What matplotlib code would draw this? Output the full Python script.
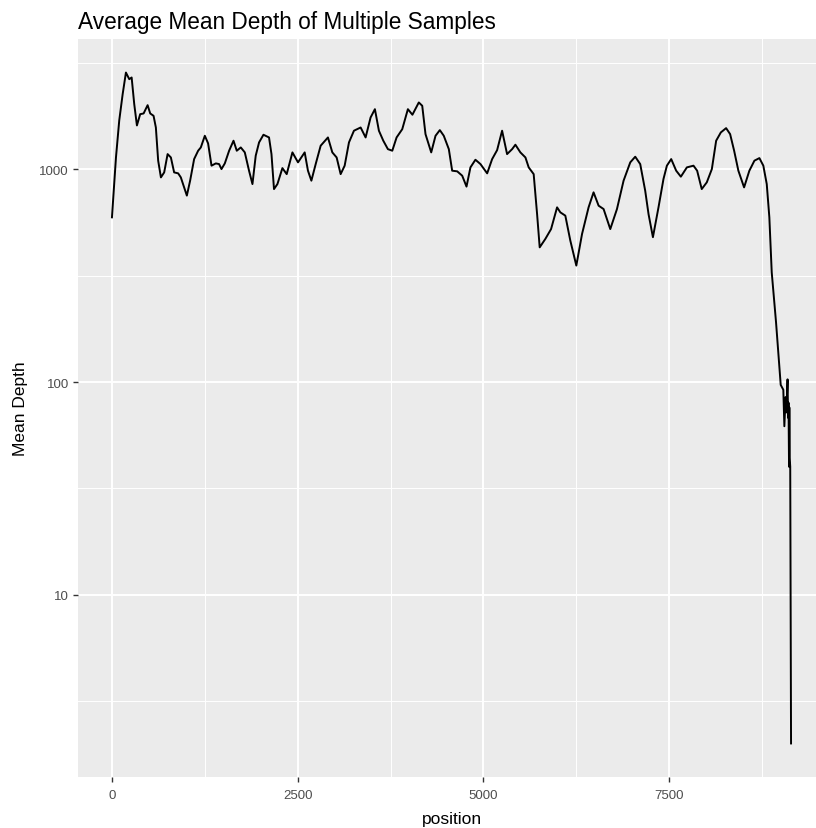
import numpy as np
import matplotlib
matplotlib.use("Agg")
import matplotlib.pyplot as plt
from matplotlib.ticker import FixedLocator, NullFormatter

plt.rcParams['font.family'] = ['Liberation Sans', 'DejaVu Sans']

# depth profile
position = [0, 54, 98, 144, 188, 233, 265, 300, 336, 380, 426, 480, 515, 560, 591,
            622, 659, 703, 749, 793, 837, 891, 927, 964, 1008, 1052, 1106, 1160, 1196,
            1250, 1294, 1340, 1398, 1442, 1474, 1519, 1577, 1636, 1680, 1734, 1788,
            1845, 1891, 1935, 1980, 2039, 2114, 2147, 2181, 2227, 2294, 2352, 2429,
            2504, 2594, 2638, 2684, 2742, 2809, 2907, 2966, 3024, 3078, 3132, 3190,
            3257, 3347, 3414, 3481, 3539, 3593, 3652, 3714, 3773, 3831, 3907, 3952,
            3983, 4044, 4130, 4176, 4220, 4297, 4355, 4413, 4466, 4534, 4579, 4647,
            4714, 4772, 4825, 4892, 4960, 5050, 5117, 5184, 5251, 5318, 5386, 5430,
            5497, 5565, 5609, 5676, 5722, 5757, 5833, 5910, 5991, 6035, 6102, 6169,
            6250, 6327, 6415, 6482, 6550, 6617, 6707, 6797, 6886, 6976, 7043, 7110,
            7177, 7222, 7281, 7356, 7423, 7469, 7527, 7594, 7657, 7738, 7827, 7876,
            7938, 8006, 8074, 8132, 8195, 8266, 8320, 8374, 8431, 8508, 8579, 8647,
            8714, 8767, 8813, 8848, 8880, 8938, 9001, 9036, 9050, 9066, 9077, 9093,
            9100, 9106, 9113, 9117, 9122, 9129, 9140]
mean_depth = [595, 1138, 1698, 2257, 2853, 2655, 2704, 2026, 1609, 1818, 1832, 2004, 1832,
              1786, 1574, 1099, 917, 968, 1180, 1138, 968, 958, 917, 839, 753, 885, 1118,
              1224, 1268, 1439, 1325, 1041, 1067, 1059, 1003, 1067, 1224, 1364, 1224,
              1268, 1202, 986, 853, 1160, 1339, 1455, 1413, 1180, 808, 853, 1014, 950,
              1202, 1079, 1202, 986, 885, 1059, 1292, 1413, 1202, 1138, 950, 1041, 1339,
              1520, 1574, 1413, 1754, 1919, 1520, 1364, 1245, 1224, 1413, 1545, 1754,
              1919, 1807, 2064, 1991, 1465, 1202, 1439, 1530, 1439, 1245, 986, 979, 934,
              830, 1022, 1110, 1059, 958, 1118, 1232, 1520, 1180, 1245, 1306, 1202, 1138,
              1022, 950, 616, 430, 471, 524, 663, 628, 606, 463, 353, 497, 663, 780, 675,
              651, 524, 651, 885, 1079, 1147, 1059, 794, 616, 480, 663, 901, 1041, 1118,
              986, 924, 1022, 1041, 986, 808, 869, 1003, 1364, 1492, 1563, 1465, 1224,
              986, 823, 986, 1099, 1130, 1041, 853, 595, 328, 191, 97, 92, 62, 85, 72,
              103, 68, 80, 40, 76, 44, 40, 2.0]

x = np.array(position)
y = np.array(mean_depth)

fig = plt.figure(figsize=(8.16, 8.29), dpi=100)
# panel runs slightly past the right edge of the figure, as in the original
ax = fig.add_axes([78/816, 51/829, 747/816, 738/829])
ax.set_facecolor('#EBEBEB')

ax.plot(x, y, color='black', lw=1.4, zorder=3)

ax.set_yscale('log')
ly = np.log10([y.min(), y.max()])
pad = 0.05*(ly[1]-ly[0])
ax.set_ylim(10**(ly[0]-pad), 10**(ly[1]+pad))
xpad = 0.05*(x.max()-x.min())
ax.set_xlim(x.min()-xpad, x.max()+xpad)

ax.xaxis.set_major_locator(FixedLocator([0, 2500, 5000, 7500]))
ax.xaxis.set_minor_locator(FixedLocator([1250, 3750, 6250, 8750]))
ax.yaxis.set_major_locator(FixedLocator([10, 100, 1000]))
ax.yaxis.set_minor_locator(FixedLocator([10**0.5, 10**1.5, 10**2.5, 10**3.5]))
ax.yaxis.set_minor_formatter(NullFormatter())
ax.set_yticklabels(['10', '100', '1000'])
ax.set_xticklabels(['0', '2500', '5000', '7500'])

ax.grid(which='major', color='white', lw=1.4, zorder=0)
ax.grid(which='minor', color='white', lw=0.7, zorder=0)
ax.set_axisbelow(True)
for s in ax.spines.values():
    s.set_visible(False)
ax.tick_params(which='major', length=3.5, width=1, color='#333333',
               labelcolor='#4D4D4D', labelsize=9.5, pad=3)
ax.tick_params(axis='x', which='major', pad=5)
ax.tick_params(which='minor', length=0)

ax.set_xlabel('position', fontsize=12.5, color='black', labelpad=7)
ax.set_ylabel('Mean Depth', fontsize=12.5, color='black', labelpad=8)
ax.set_title('Average Mean Depth of Multiple Samples', loc='left', fontsize=16.3,
             color='black', pad=8)

fig.savefig('out.png', dpi=100)
